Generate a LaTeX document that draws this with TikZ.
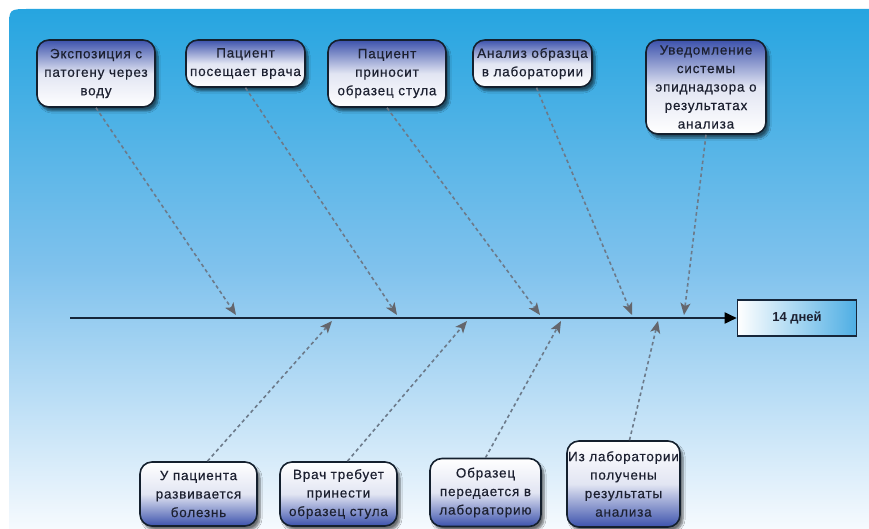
\documentclass[tikz,border=0pt]{standalone}
\usepackage{fontspec}
\setmainfont{Liberation Sans}
\newfontfamily\boxfont[LetterSpace=6,FakeBold=0.4]{Liberation Sans}
\usetikzlibrary{shadows.blur,arrows.meta}

\definecolor{bgtop}{RGB}{38,165,224}
\definecolor{bgmid}{RGB}{128,194,237}
\definecolor{bgbot}{RGB}{246,250,254}
\definecolor{boxblue}{RGB}{60,82,172}
\definecolor{boxedge}{RGB}{20,32,46}
\definecolor{dashcol}{RGB}{108,122,138}
\definecolor{tipcol}{RGB}{100,102,108}
\definecolor{spinecol}{RGB}{22,38,58}
\definecolor{daysblue}{RGB}{78,174,228}
\definecolor{txt}{RGB}{28,32,48}

\begin{document}
\begin{tikzpicture}[x=1pt,y=-1pt,
  event/.style={draw=boxedge, line width=1.6pt, rounded corners=12pt,
    align=center, text=txt, inner sep=0pt,
    font=\boxfont\fontsize{13.5}{18.5}\selectfont,
    blur shadow={shadow xshift=3pt, shadow yshift=-4pt,
      shadow blur steps=6, shadow opacity=55}},
  upper/.style={event, top color=boxblue, bottom color=white,
    middle color=white!85!boxblue},
  lower/.style={event, top color=white, bottom color=boxblue,
    middle color=white!85!boxblue},
  conn/.style={draw=dashcol, line width=1.6pt, dash pattern=on 3.5pt off 3pt,
    -{Stealth[length=12pt,width=10pt,inset=3pt,fill=tipcol,color=tipcol]}},
  spine/.style={draw=spinecol, line width=1.8pt,
    -{Triangle[length=12pt,width=11pt,fill=black,color=black]}}
]
\useasboundingbox (0,0) rectangle (869,529);

% backdrop: white frame with a blue-to-white panel
\fill[white] (0,0) rectangle (869,529);
\shade[top color=bgtop, bottom color=bgbot, middle color=bgmid]
  (9,529) -- (9,29) .. controls (9,9) .. (29,9) -- (869,9) -- (869,529) -- cycle;

% events above the time line
\node[upper, minimum width=118pt, minimum height=67pt] (e1) at (96,73.5)
  {Экспозиция с\\патогену через\\воду};
\node[upper, minimum width=119pt, minimum height=47pt] (e2) at (245.5,63.5)
  {Пациент\\посещает врача};
\node[upper, minimum width=118pt, minimum height=67pt] (e3) at (387,73.5)
  {Пациент\\приносит\\образец стула};
\node[upper, minimum width=119pt, minimum height=47pt] (e4) at (532.5,63.5)
  {Анализ образца\\в лаборатории};
\node[upper, minimum width=120pt, minimum height=94pt] (e5) at (706,87)
  {Уведомление\\системы\\эпиднадзора о\\результатах\\анализа};

% events below the time line
\node[lower, minimum width=117pt, minimum height=64pt] (f1) at (198.5,494)
  {У пациента\\развивается\\болезнь};
\node[lower, minimum width=117pt, minimum height=64pt] (f2) at (338.5,494)
  {Врач требует\\принести\\образец стула};
\node[lower, minimum width=111pt, minimum height=68pt] (f3) at (485.5,492.5)
  {Образец\\передается в\\лабораторию};
\node[lower, minimum width=113pt, minimum height=86pt] (f4) at (623.5,484)
  {Из лаборатории\\получены\\результаты\\анализа};

% end of the time line
\node[draw=spinecol, line width=1.6pt, left color=white, right color=daysblue,
  minimum width=119pt, minimum height=36pt, inner sep=0pt, text=txt,
  font=\bfseries\fontsize{13}{16}\selectfont] (days) at (797,318) {14 дней};

% time line
\coordinate (tail) at (70,318);
\draw[spine] (tail) -- (days.west);

% points on the time line
\coordinate (t1) at (236,315);
\coordinate (t2) at (397,315);
\coordinate (t3) at (540,315);
\coordinate (t4) at (632,315);
\coordinate (t5) at (684,315);
\coordinate (b1) at (332,321);
\coordinate (b2) at (467,321);
\coordinate (b3) at (561,321);
\coordinate (b4) at (658,321);

% connectors
\draw[conn] (e1.south) -- (t1);
\draw[conn] (e2.south) -- (t2);
\draw[conn] (e3.south) -- (t3);
\draw[conn] ([xshift=4pt]e4.south) -- (t4);
\draw[conn] (e5.south) -- (t5);
\draw[conn] ([xshift=9pt]f1.north) -- (b1);
\draw[conn] ([xshift=9pt]f2.north) -- (b2);
\draw[conn] (f3.north) -- (b3);
\draw[conn] ([xshift=6pt]f4.north) -- (b4);
\end{tikzpicture}
\end{document}
